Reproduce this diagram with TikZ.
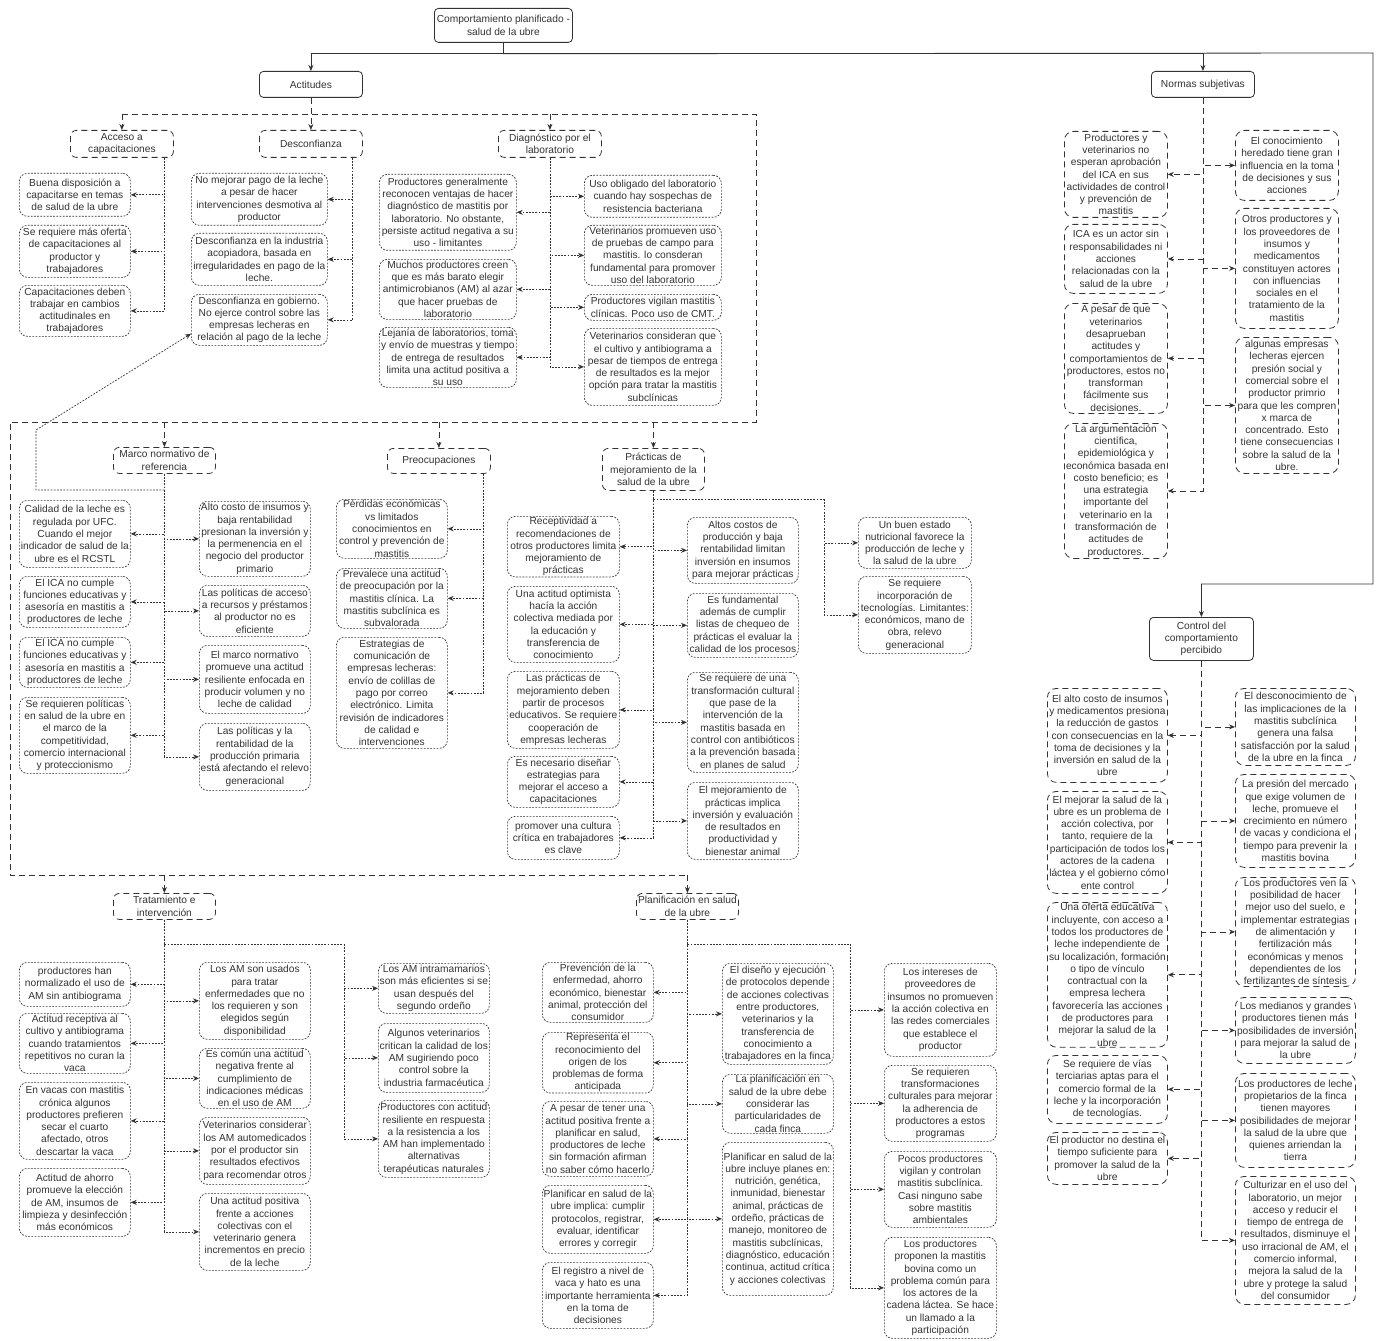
\documentclass[tikz,border=0pt]{standalone}
\usepackage{fontspec}
\setmainfont{Liberation Sans}
\usetikzlibrary{positioning,arrows.meta}
\definecolor{ln}{HTML}{333333}
\newcommand{\fsz}{\fontsize{10.2pt}{12.3pt}\selectfont}
\tikzset{mainbox/.style={draw=ln,line width=0.8pt,rounded corners=4pt,align=center,anchor=north west,inner sep=1pt,text=ln,font=\fsz},
         grpbox/.style={mainbox,dash pattern=on 6pt off 4pt,rounded corners=6pt},
         itmbox/.style={mainbox,line width=0.7pt,dash pattern=on 1.8pt off 1.4pt,rounded corners=8pt},
         dshbox/.style={mainbox,dash pattern=on 6pt off 4pt,rounded corners=9pt},
         mainln/.style={draw=ln,line width=0.8pt},
         grpln/.style={mainln,dash pattern=on 6pt off 4pt},
         itmln/.style={mainln,line width=0.7pt,dash pattern=on 1.8pt off 1.4pt},
         arr/.style={-{Stealth[length=6pt,width=5pt]}}
}

\begin{document}
\begin{tikzpicture}[x=1pt,y=-1pt]
\useasboundingbox (0,0) rectangle (1380,1340);

% main boxes
\node[mainbox,minimum width=138pt,minimum height=34pt] (cmp) at (434,8) {Comportamiento planificado -\\salud de la ubre};
\node[mainbox,minimum width=103pt,minimum height=26pt] (act) at (259,71) {Actitudes};
\node[mainbox,minimum width=103pt,minimum height=26pt] (nor) at (1151,71) {Normas subjetivas};
\node[mainbox,minimum width=104pt,minimum height=43pt] (ctl) at (1149,617) {Control del\\comportamiento\\percibido};

% groups of Actitudes
\node[grpbox,minimum width=103pt,minimum height=27pt] (acc) at (70,130) {Acceso a\\capacitaciones};
\node[grpbox,minimum width=103pt,minimum height=27pt] (des) at (259,130) {Desconfianza};
\node[grpbox,minimum width=103pt,minimum height=27pt] (dia) at (498,130) {Diagnóstico por el\\laboratorio};
\node[grpbox,minimum width=102pt,minimum height=26pt] (mar) at (113,447) {Marco normativo de\\referencia};
\node[grpbox,minimum width=103pt,minimum height=25pt] (pre) at (387,448) {Preocupaciones};
\node[grpbox,minimum width=102pt,minimum height=42pt] (pra) at (602,448) {Prácticas de\\mejoramiento de la\\salud de la ubre};
\node[grpbox,minimum width=102pt,minimum height=26pt] (tra) at (113,893) {Tratamiento e\\intervención};
\node[grpbox,minimum width=102pt,minimum height=26pt] (pla) at (636,893) {Planificación en salud\\de la ubre};

% Acceso a capacitaciones
\node[itmbox,minimum width=111pt,minimum height=43pt] (acc1) at (19,173) {Buena disposición a\\capacitarse en temas\\de salud de la ubre};
\node[itmbox,minimum width=111pt,minimum height=52pt] (acc2) at (19,225) {Se requiere más oferta\\de capacitaciones al\\productor y\\trabajadores};
\node[itmbox,minimum width=111pt,minimum height=51pt] (acc3) at (19,285) {Capacitaciones deben\\trabajar en cambios\\actitudinales en\\trabajadores};

% Desconfianza
\node[itmbox,minimum width=136pt,minimum height=52pt] (des1) at (191,173) {No mejorar pago de la leche\\a pesar de hacer\\intervenciones desmotiva al\\productor};
\node[itmbox,minimum width=136pt,minimum height=52pt] (des2) at (191,233) {Desconfianza en la industria\\acopiadora, basada en\\irregularidades en pago de la\\leche.};
\node[itmbox,minimum width=136pt,minimum height=51pt] (des3) at (191,294) {Desconfianza en gobierno.\\No ejerce control sobre las\\empresas lecheras en\\relación al pago de la leche};

% Diagnostico por el laboratorio
\node[itmbox,minimum width=137pt,minimum height=76pt] (dl1) at (379,174) {Productores generalmente\\reconocen ventajas de hacer\\diagnóstico de mastitis por\\laboratorio. No obstante,\\persiste actitud negativa a su\\uso - limitantes};
\node[itmbox,minimum width=137pt,minimum height=60pt] (dl2) at (379,259) {Muchos productores creen\\que es más barato elegir\\antimicrobianos (AM) al azar\\que hacer pruebas de\\laboratorio};
\node[itmbox,minimum width=137pt,minimum height=60pt] (dl3) at (379,327) {Lejanía de laboratorios, toma\\y envío de muestras y tiempo\\de entrega de resultados\\limita una actitud positiva a\\su uso};
\node[itmbox,minimum width=137pt,minimum height=42pt] (dr1) at (584,175) {Uso obligado del laboratorio\\cuando hay sospechas de\\resistencia bacteriana};
\node[itmbox,minimum width=137pt,minimum height=60pt] (dr2) at (584,225) {Veterinarios promueven uso\\de pruebas de campo para\\mastitis. lo consderan\\fundamental para promover\\uso del laboratorio};
\node[itmbox,minimum width=137pt,minimum height=26pt] (dr3) at (584,294) {Productores vigilan mastitis\\clínicas. Poco uso de CMT.};
\node[itmbox,minimum width=137pt,minimum height=77pt] (dr4) at (584,328) {Veterinarios consideran que\\el cultivo y antibiograma a\\pesar de tiempos de entrega\\de resultados es la mejor\\opción para tratar la mastitis\\subclínicas};

% Marco normativo de referencia
\node[itmbox,minimum width=111pt,minimum height=67pt] (ml1) at (19,500) {Calidad de la leche es\\regulada por UFC.\\Cuando el mejor\\indicador de salud de la\\ubre es el RCSTL};
\node[itmbox,minimum width=111pt,minimum height=51pt] (ml2) at (19,576) {El ICA no cumple\\funciones educativas y\\asesoría en mastitis a\\productores de leche};
\node[itmbox,minimum width=111pt,minimum height=50pt] (ml3) at (19,637) {El ICA no cumple\\funciones educativas y\\asesoría en mastitis a\\productores de leche};
\node[itmbox,minimum width=111pt,minimum height=76pt] (ml4) at (19,697) {Se requieren políticas\\en salud de la ubre en\\el marco de la\\competitividad,\\comercio internacional\\y proteccionismo};
\node[itmbox,minimum width=111pt,minimum height=75pt] (mr1) at (199,501) {Alto costo de insumos y\\baja rentabilidad\\presionan la inversión y\\la permenencia en el\\negocio del productor\\primario};
\node[itmbox,minimum width=111pt,minimum height=51pt] (mr2) at (199,585) {Las políticas de acceso\\a recursos y préstamos\\al productor no es\\eficiente};
\node[itmbox,minimum width=111pt,minimum height=68pt] (mr3) at (199,645) {El marco normativo\\promueve una actitud\\resiliente enfocada en\\producir volumen y no\\leche de calidad};
\node[itmbox,minimum width=111pt,minimum height=67pt] (mr4) at (199,723) {Las políticas y la\\rentabilidad de la\\producción primaria\\está afectando el relevo\\generacional};

% Preocupaciones
\node[itmbox,minimum width=111pt,minimum height=59pt] (pr1) at (336,499) {Pérdidas económicas\\vs limitados\\conocimientos en\\control y prevención de\\mastitis};
\node[itmbox,minimum width=111pt,minimum height=60pt] (pr2) at (336,568) {Prevalece una actitud\\de preocupación por la\\mastitis clínica. La\\mastitis subclínica es\\subvalorada};
\node[itmbox,minimum width=111pt,minimum height=111pt] (pr3) at (336,637) {Estrategias de\\comunicación de\\empresas lecheras:\\envío de colillas de\\pago por correo\\electrónico. Limita\\revisión de indicadores\\de calidad e\\intervenciones};

% Practicas de mejoramiento
\node[itmbox,minimum width=112pt,minimum height=60pt] (pl1) at (507,516) {Receptividad a\\recomendaciones de\\otros productores limita\\mejoramiento de\\prácticas};
\node[itmbox,minimum width=112pt,minimum height=76pt] (pl2) at (507,586) {Una actitud optimista\\hacía la acción\\colectiva mediada por\\la educación y\\transferencia de\\conocimiento};
\node[itmbox,minimum width=112pt,minimum height=77pt] (pl3) at (507,671) {Las prácticas de\\mejoramiento deben\\partir de procesos\\educativos. Se requiere\\cooperación de\\empresas lecheras};
\node[itmbox,minimum width=112pt,minimum height=51pt] (pl4) at (507,756) {Es necesario diseñar\\estrategias para\\mejorar el acceso a\\capacitaciones};
\node[itmbox,minimum width=112pt,minimum height=43pt] (pl5) at (507,816) {promover una cultura\\crítica en trabajadores\\es clave};
\node[itmbox,minimum width=111pt,minimum height=66pt] (pm1) at (687,517) {Altos costos de\\producción y baja\\rentabilidad limitan\\inversión en insumos\\para mejorar prácticas};
\node[itmbox,minimum width=111pt,minimum height=64pt] (pm2) at (687,593) {Es fundamental\\además de cumplir\\listas de chequeo de\\prácticas el evaluar la\\calidad de los procesos};
\node[itmbox,minimum width=111pt,minimum height=100pt] (pm3) at (687,672) {Se requiere de una\\transformación cultural\\que pase de la\\intervención de la\\mastitis basada en\\control con antibióticos\\a la prevención basada\\en planes de salud};
\node[itmbox,minimum width=111pt,minimum height=77pt] (pm4) at (687,782) {El mejoramiento de\\prácticas implica\\inversión y evaluación\\de resultados en\\productividad y\\bienestar animal};
\node[itmbox,minimum width=113pt,minimum height=51pt] (pf1) at (858,517) {Un buen estado\\nutricional favorece la\\producción de leche y\\la salud de la ubre};
\node[itmbox,minimum width=113pt,minimum height=77pt] (pf2) at (858,576) {Se requiere\\incorporación de\\tecnologías. Limitantes:\\económicos, mano de\\obra, relevo\\generacional};

% Tratamiento e intervencion
\node[itmbox,minimum width=111pt,minimum height=44pt] (tl1) at (19,962) {productores han\\normalizado el uso de\\AM sin antibiograma};
\node[itmbox,minimum width=111pt,minimum height=60pt] (tl2) at (19,1013) {Actitud receptiva al\\cultivo y antibiograma\\cuando tratamientos\\repetitivos no curan la\\vaca};
\node[itmbox,minimum width=111pt,minimum height=77pt] (tl3) at (19,1082) {En vacas con mastitis\\crónica algunos\\productores prefieren\\secar el cuarto\\afectado, otros\\descartar la vaca};
\node[itmbox,minimum width=111pt,minimum height=68pt] (tl4) at (19,1168) {Actitud de ahorro\\promueve la elección\\de AM, insumos de\\limpieza y desinfección\\más económicos};
\node[itmbox,minimum width=111pt,minimum height=77pt] (tm1) at (199,962) {Los AM son usados\\para tratar\\enfermedades que no\\los requieren y son\\elegidos según\\disponibilidad};
\node[itmbox,minimum width=111pt,minimum height=60pt] (tm2) at (199,1048) {Es común una actitud\\negativa frente al\\cumplimiento de\\indicaciones médicas\\en el uso de AM};
\node[itmbox,minimum width=111pt,minimum height=67pt] (tm3) at (199,1117) {Veterinarios considerar\\los AM automedicados\\por el productor sin\\resultados efectivos\\para recomendar otros};
\node[itmbox,minimum width=111pt,minimum height=77pt] (tm4) at (199,1193) {Una actitud positiva\\frente a acciones\\colectivas con el\\veterinario genera\\incrementos en precio\\de la leche};
\node[itmbox,minimum width=111pt,minimum height=50pt] (tr1) at (378,963) {Los AM intramamarios\\son más eficientes si se\\usan después del\\segundo ordeño};
\node[itmbox,minimum width=111pt,minimum height=69pt] (tr2) at (378,1023) {Algunos veterinarios\\critican la calidad de los\\AM sugiriendo poco\\control sobre la\\industria farmacéutica};
\node[itmbox,minimum width=111pt,minimum height=77pt] (tr3) at (378,1100) {Productores con actitud\\resiliente en respuesta\\a la resistencia a los\\AM han implementado\\alternativas\\terapéuticas naturales};

% Planificacion en salud de la ubre
\node[itmbox,minimum width=111pt,minimum height=60pt] (ql1) at (542,962) {Prevención de la\\enfermedad, ahorro\\económico, bienestar\\animal, protección del\\consumidor};
\node[itmbox,minimum width=111pt,minimum height=59pt] (ql2) at (542,1032) {Representa el\\reconocimiento del\\origen de los\\problemas de forma\\anticipada};
\node[itmbox,minimum width=111pt,minimum height=75pt] (ql3) at (542,1101) {A pesar de tener una\\actitud positiva frente a\\planificar en salud,\\productores de leche\\sin formación afirman\\no saber cómo hacerlo};
\node[itmbox,minimum width=111pt,minimum height=68pt] (ql4) at (542,1185) {Planificar en salud de la\\ubre implica: cumplir\\protocolos, registrar,\\evaluar, identificar\\errores y corregir};
\node[itmbox,minimum width=111pt,minimum height=66pt] (ql5) at (542,1262) {El registro a nivel de\\vaca y hato es una\\importante herramienta\\en la toma de\\decisiones};
\node[itmbox,minimum width=111pt,minimum height=101pt] (qm1) at (722,963) {El diseño y ejecución\\de protocolos depende\\de acciones colectivas\\entre productores,\\veterinarios y la\\transferencia de\\conocimiento a\\trabajadores en la finca};
\node[itmbox,minimum width=111pt,minimum height=59pt] (qm2) at (722,1074) {La planificación en\\salud de la ubre debe\\considerar las\\particularidades de\\cada finca};
\node[itmbox,minimum width=111pt,minimum height=153pt] (qm3) at (722,1142) {Planificar en salud de la\\ubre incluye planes en:\\nutrición, genética,\\inmunidad, bienestar\\animal, prácticas de\\ordeño, prácticas de\\manejo, monitoreo de\\mastitis subclínicas,\\diagnóstico, educación\\continua, actitud crítica\\y acciones colectivas};
\node[itmbox,minimum width=112pt,minimum height=93pt] (qr1) at (884,963) {Los intereses de\\proveedores de\\insumos no promueven\\la acción colectiva en\\las redes comerciales\\que establece el\\productor};
\node[itmbox,minimum width=112pt,minimum height=76pt] (qr2) at (884,1065) {Se requieren\\transformaciones\\culturales para mejorar\\la adherencia de\\productores a estos\\programas};
\node[itmbox,minimum width=112pt,minimum height=76pt] (qr3) at (884,1151) {Pocos productores\\vigilan y controlan\\mastitis subclínica.\\Casi ninguno sabe\\sobre mastitis\\ambientales};
\node[itmbox,minimum width=112pt,minimum height=101pt] (qr4) at (884,1237) {Los productores\\proponen la mastitis\\bovina como un\\problema común para\\los actores de la\\cadena láctea. Se hace\\un llamado a la\\participación};

% Normas subjetivas
\node[dshbox,minimum width=103pt,minimum height=86pt] (nl1) at (1064,131) {Productores y\\veterinarios no\\esperan aprobación\\del ICA en sus\\actividades de control\\y prevención de\\mastitis};
\node[dshbox,minimum width=103pt,minimum height=69pt] (nl2) at (1064,224) {ICA es un actor sin\\responsabilidades ni\\acciones\\relacionadas con la\\salud de la ubre};
\node[dshbox,minimum width=103pt,minimum height=110pt] (nl3) at (1064,303) {A pesar de que\\veterinarios\\desaprueban\\actitudes y\\comportamientos de\\productores, estos no\\transforman\\fácilmente sus\\decisiones.};
\node[dshbox,minimum width=103pt,minimum height=135pt] (nl4) at (1064,423) {La argumentación\\científica,\\epidemiológica y\\económica basada en\\costo beneficio; es\\una estrategia\\importante del\\veterinario en la\\transformación de\\actitudes de\\productores.};
\node[dshbox,minimum width=103pt,minimum height=70pt] (nr1) at (1235,130) {El conocimiento\\heredado tiene gran\\influencia en la toma\\de decisiones y sus\\acciones};
\node[dshbox,minimum width=103pt,minimum height=120pt] (nr2) at (1235,208) {Otros productores y\\los proveedores de\\insumos y\\medicamentos\\constituyen actores\\con influencias\\sociales en el\\tratamiento de la\\mastitis};
\node[dshbox,minimum width=103pt,minimum height=136pt] (nr3) at (1235,337) {algunas empresas\\lecheras ejercen\\presión social y\\comercial sobre el\\productor primrio\\para que les compren\\x marca de\\concentrado. Esto\\tiene consecuencias\\sobre la salud de la\\ubre.};

% Control del comportamiento percibido
\node[dshbox,minimum width=120pt,minimum height=94pt] (cl1) at (1047,688) {El alto costo de insumos\\y medicamentos presiona\\la reducción de gastos\\con consecuencias en la\\toma de decisiones y la\\inversión en salud de la\\ubre};
\node[dshbox,minimum width=120pt,minimum height=102pt] (cl2) at (1047,791) {El mejorar la salud de la\\ubre es un problema de\\acción colectiva, por\\tanto, requiere de la\\participación de todos los\\actores de la cadena\\láctea y el gobierno cómo\\ente control};
\node[dshbox,minimum width=120pt,minimum height=143pt] (cl3) at (1047,902) {Una oferta educativa\\incluyente, con acceso a\\todos los productores de\\leche independiente de\\su localización, formación\\o tipo de vínculo\\contractual con la\\empresa lechera\\favorecería las acciones\\de productores para\\mejorar la salud de la\\ubre};
\node[dshbox,minimum width=120pt,minimum height=68pt] (cl4) at (1047,1055) {Se requiere de vías\\terciarias aptas para el\\comercio formal de la\\leche y la incorporación\\de tecnologías.};
\node[dshbox,minimum width=120pt,minimum height=52pt] (cl5) at (1047,1132) {El productor no destina el\\tiempo suficiente para\\promover la salud de la\\ubre};
\node[dshbox,minimum width=120pt,minimum height=77pt] (cr1) at (1235,688) {El desconocimiento de\\las implicaciones de la\\mastitis subclínica\\genera una falsa\\satisfacción por la salud\\de la ubre en la finca};
\node[dshbox,minimum width=120pt,minimum height=93pt] (cr2) at (1235,774) {La presión del mercado\\que exige volumen de\\leche, promueve el\\crecimiento en número\\de vacas y condiciona el\\tiempo para prevenir la\\mastitis bovina};
\node[dshbox,minimum width=120pt,minimum height=109pt] (cr3) at (1235,877) {Los productores ven la\\posibilidad de hacer\\mejor uso del suelo, e\\implementar estrategias\\de alimentación y\\fertilización más\\económicas y menos\\dependientes de los\\fertilizantes de síntesis};
\node[dshbox,minimum width=120pt,minimum height=66pt] (cr4) at (1235,997) {Los medianos y grandes\\productores tienen más\\posibilidades de inversión\\para mejorar la salud de\\la ubre};
\node[dshbox,minimum width=120pt,minimum height=94pt] (cr5) at (1235,1073) {Los productores de leche\\propietarios de la finca\\tienen mayores\\posibilidades de mejorar\\la salud de la ubre que\\quienes arriendan la\\tierra};
\node[dshbox,minimum width=120pt,minimum height=128pt] (cr6) at (1235,1176) {Culturizar en el uso del\\laboratorio, un mejor\\acceso y reducir el\\tiempo de entrega de\\resultados, disminuye el\\uso irracional de AM, el\\comercio informal,\\mejora la salud de la\\ubre y protege la salud\\del consumidor};

% corners of the connectors
\coordinate (topr) at (1373,53);
\coordinate (topd) at (1373,584);
\coordinate (fr1) at (756,114);
\coordinate (fr2) at (756,422);
\coordinate (fr3) at (10,422);
\coordinate (fr4) at (10,875);
\coordinate (md1) at (36,490);
\coordinate (md2) at (36,430);
\coordinate (pk) at (824,499);
\coordinate (tk) at (344,944);
\coordinate (qk) at (850,944);

% top
\draw[mainln,arr] (cmp.south) -- ++(0,11) -| (act.north);
\draw[mainln,arr] (cmp.south) -- ++(0,11) -| (nor.north);
\draw[mainln,arr] (cmp.south) -- ++(0,11) -- (topr) -- (topd) -| (ctl.north);

% frame of Actitudes
\draw[grpln] (acc.north |- fr1) -- (fr1) -- (fr2) -- (fr3) -- (fr4) -- (pla.north |- fr4);
\draw[grpln,arr] (act.south) -- (des.north);
\draw[grpln,arr] (acc.north |- fr1) -- (acc.north);
\draw[grpln,arr] (dia.north |- fr1) -- (dia.north);
\draw[grpln,arr] (mar.north |- fr2) -- (mar.north);
\draw[grpln,arr] (pre.north |- fr2) -- (pre.north);
\draw[grpln,arr] (pra.north |- fr2) -- (pra.north);
\draw[grpln,arr] (tra.north |- fr4) -- (tra.north);
\draw[grpln,arr] (pla.north |- fr4) -- (pla.north);

% Acceso
\draw[itmln,arr] ([xshift=-9pt]acc.south east) |- (acc1.east);
\draw[itmln,arr] ([xshift=-9pt]acc.south east) |- (acc2.east);
\draw[itmln,arr] ([xshift=-9pt]acc.south east) |- (acc3.east);
% Desconfianza
\draw[itmln,arr] ([xshift=-10pt]des.south east) |- (des1.east);
\draw[itmln,arr] ([xshift=-10pt]des.south east) |- (des2.east);
\draw[itmln,arr] ([xshift=-10pt]des.south east) |- (des3.east);
% Diagnostico
\draw[itmln,arr] (dia.south) |- (dl1.east);
\draw[itmln,arr] (dia.south) |- (dl2.east);
\draw[itmln,arr] (dia.south) |- (dl3.east);
\draw[itmln,arr] (dia.south) |- (dr1.west);
\draw[itmln,arr] (dia.south) |- (dr2.west);
\draw[itmln,arr] (dia.south) |- (dr3.west);
\draw[itmln,arr] (dia.south) |- (dr4.west);
% Marco normativo
\draw[itmln,arr] (mar.south) |- (ml1.east);
\draw[itmln,arr] (mar.south) |- (ml2.east);
\draw[itmln,arr] (mar.south) |- (ml3.east);
\draw[itmln,arr] (mar.south) |- (ml4.east);
\draw[itmln,arr] (mar.south) |- (mr1.west);
\draw[itmln,arr] (mar.south) |- (mr2.west);
\draw[itmln,arr] (mar.south) |- (mr3.west);
\draw[itmln,arr] (mar.south) |- (mr4.west);
\draw[itmln,arr] (mar.south |- md1) -- (md1) -- (md2) -- ([yshift=12pt]des3.south west);
% Preocupaciones
\draw[itmln,arr] ([xshift=-7pt]pre.south east) |- (pr1.east);
\draw[itmln,arr] ([xshift=-7pt]pre.south east) |- (pr2.east);
\draw[itmln,arr] ([xshift=-7pt]pre.south east) |- (pr3.east);
% Practicas
\draw[itmln,arr] (pra.south) |- (pl1.east);
\draw[itmln,arr] (pra.south) |- (pl2.east);
\draw[itmln,arr] (pra.south) |- (pl3.east);
\draw[itmln,arr] (pra.south) |- (pl4.east);
\draw[itmln,arr] (pra.south) |- (pl5.east);
\draw[itmln,arr] (pra.south) |- (pm1.west);
\draw[itmln,arr] (pra.south) |- (pm2.west);
\draw[itmln,arr] (pra.south) |- (pm3.west);
\draw[itmln,arr] (pra.south) |- (pm4.west);
\draw[itmln] (pra.south |- pk) -- (pk);
\draw[itmln,arr] (pk) |- (pf1.west);
\draw[itmln,arr] (pk) |- (pf2.west);
% Tratamiento
\draw[itmln,arr] (tra.south) |- (tl1.east);
\draw[itmln,arr] (tra.south) |- (tl2.east);
\draw[itmln,arr] (tra.south) |- (tl3.east);
\draw[itmln,arr] (tra.south) |- (tl4.east);
\draw[itmln,arr] (tra.south) |- (tm1.west);
\draw[itmln,arr] (tra.south) |- (tm2.west);
\draw[itmln,arr] (tra.south) |- (tm3.west);
\draw[itmln,arr] (tra.south) |- (tm4.west);
\draw[itmln] (tra.south |- tk) -- (tk);
\draw[itmln,arr] (tk) |- (tr1.west);
\draw[itmln,arr] (tk) |- (tr2.west);
\draw[itmln,arr] (tk) |- (tr3.west);
% Planificacion
\draw[itmln,arr] (pla.south) |- (ql1.east);
\draw[itmln,arr] (pla.south) |- (ql2.east);
\draw[itmln,arr] (pla.south) |- (ql3.east);
\draw[itmln,arr] (pla.south) |- (ql4.east);
\draw[itmln,arr] (pla.south) |- (ql5.east);
\draw[itmln,arr] (pla.south) |- (qm1.west);
\draw[itmln,arr] (pla.south) |- (qm2.west);
\draw[itmln,arr] (pla.south) |- (qm3.west);
\draw[itmln] (pla.south |- qk) -- (qk);
\draw[itmln,arr] (qk) |- (qr1.west);
\draw[itmln,arr] (qk) |- (qr2.west);
\draw[itmln,arr] (qk) |- (qr3.west);
\draw[itmln,arr] (qk) |- (qr4.west);

% Normas subjetivas
\draw[grpln,arr] (nor.south) |- (nl1.east);
\draw[grpln,arr] (nor.south) |- (nl2.east);
\draw[grpln,arr] (nor.south) |- (nl3.east);
\draw[grpln,arr] (nor.south) |- (nl4.east);
\draw[grpln,arr] (nor.south) |- (nr1.west);
\draw[grpln,arr] (nor.south) |- (nr2.west);
\draw[grpln,arr] (nor.south) |- (nr3.west);

% Control del comportamiento percibido
\draw[grpln,arr] (ctl.south) |- (cl1.east);
\draw[grpln,arr] (ctl.south) |- (cl2.east);
\draw[grpln,arr] (ctl.south) |- (cl3.east);
\draw[grpln,arr] (ctl.south) |- (cl4.east);
\draw[grpln,arr] (ctl.south) |- (cl5.east);
\draw[grpln,arr] (ctl.south) |- (cr1.west);
\draw[grpln,arr] (ctl.south) |- (cr2.west);
\draw[grpln,arr] (ctl.south) |- (cr3.west);
\draw[grpln,arr] (ctl.south) |- (cr4.west);
\draw[grpln,arr] (ctl.south) |- (cr5.west);
\draw[grpln,arr] (ctl.south) |- (cr6.west);

\end{tikzpicture}
\end{document}
